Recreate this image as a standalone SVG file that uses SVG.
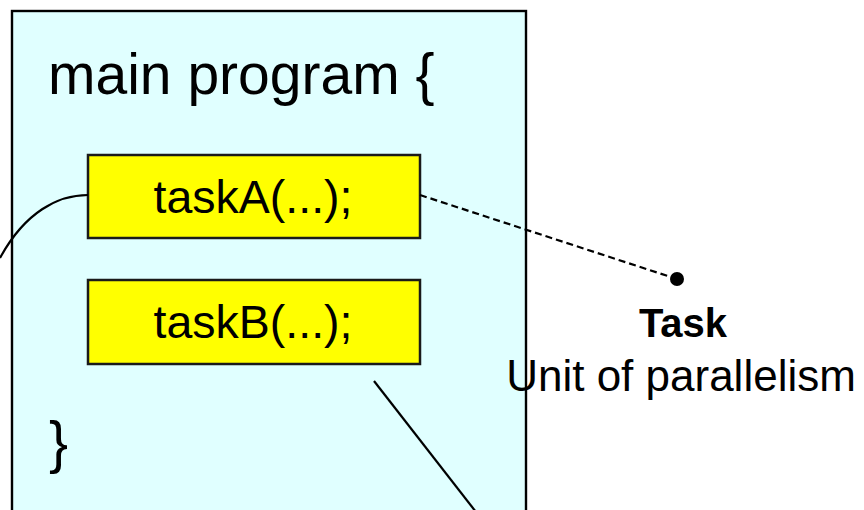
<svg xmlns="http://www.w3.org/2000/svg" width="864" height="510" viewBox="0 0 864 510">
<style>
.t{font-family:"Liberation Sans",Arial,sans-serif;fill:#000}
.task{fill:#FFFF00;stroke:#1a1a1a;stroke-width:2.5}
.ln{fill:none;stroke:#000;stroke-width:2.2}
</style>
<rect width="864" height="510" fill="#fff"/>
<g id="main">
<rect x="12" y="11" width="514" height="520" fill="#E0FFFF" stroke="#000" stroke-width="2.4"/>
<text class="t" x="48" y="94" font-size="57">main program {</text>
<text class="t" x="49" y="462" font-size="57">}</text>
</g>
<g id="taskA">
<rect class="task" x="88" y="155" width="332" height="83"/>
<text class="t" x="253" y="213" font-size="46.5" text-anchor="middle">taskA(...);</text>
</g>
<g id="taskB">
<rect class="task" x="88" y="280" width="332" height="84"/>
<text class="t" x="253" y="338" font-size="46.5" text-anchor="middle">taskB(...);</text>
</g>
<g id="task-label">
<circle cx="677" cy="279" r="7" fill="#000"/>
<text class="t" x="683" y="337" font-size="40" font-weight="bold" text-anchor="middle">Task</text>
<text class="t" x="681" y="391" font-size="44" text-anchor="middle">Unit of parallelism</text>
</g>
<g id="connectors">
<path class="ln" d="M88,195 C58,195 25,212 0,258"/>
<path class="ln" d="M420,195 L677,279" stroke-dasharray="7 4" stroke-width="2.5"/>
<path class="ln" d="M374,381 L476,512"/>
</g>
</svg>
